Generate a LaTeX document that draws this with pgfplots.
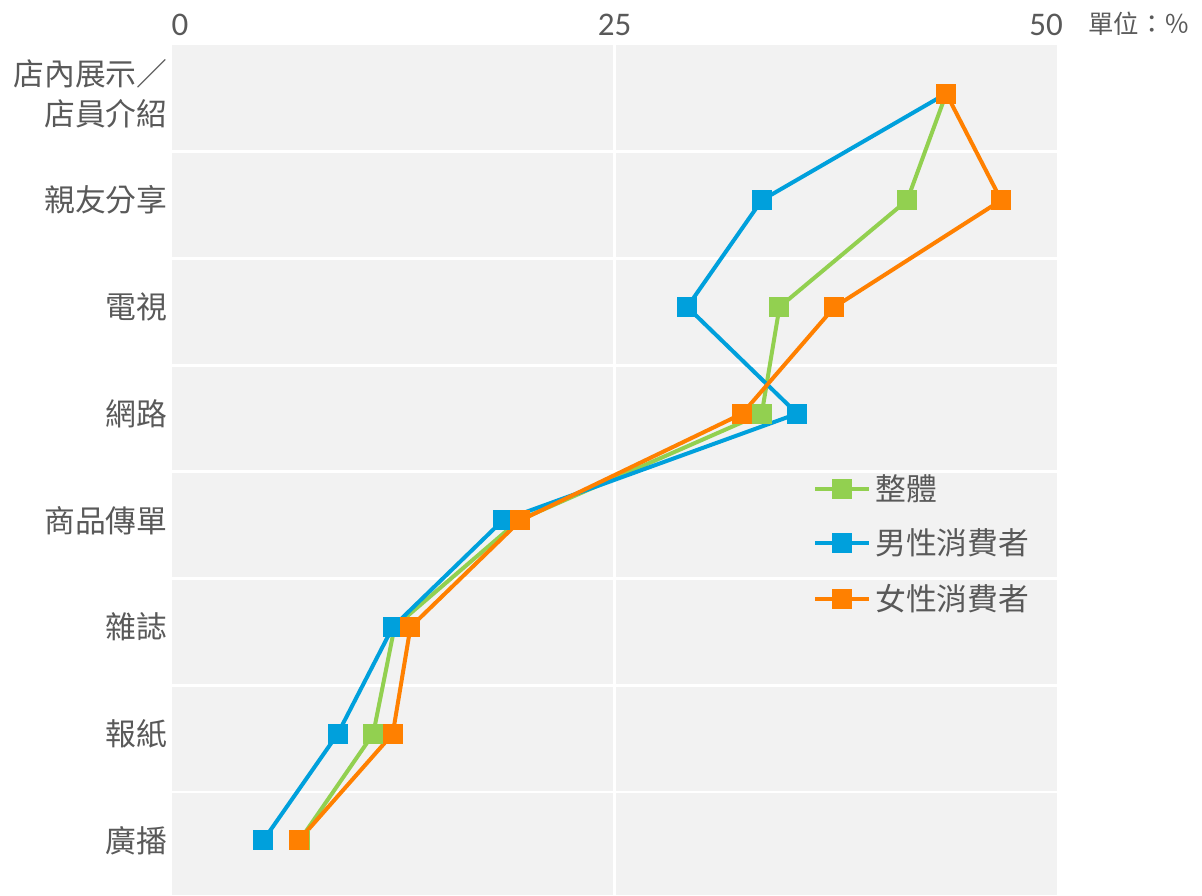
\documentclass[border=0pt]{standalone}
\usepackage{pgfplots}
\pgfplotsset{compat=1.18}
\usepackage{fontspec}
\setmainfont{Carlito}
\newfontfamily\cjk{Noto Sans CJK TC}
\definecolor{cgreen}{HTML}{92D050}
\definecolor{cblue}{HTML}{00A0DC}
\definecolor{corange}{HTML}{FF8000}
\definecolor{bgray}{HTML}{F2F2F2}
\definecolor{tgray}{HTML}{595959}

\begin{document}
\begin{tikzpicture}
\useasboundingbox (-85.5pt,0pt) rectangle (515.5pt,447.5pt);
\begin{axis}[
  at={(0pt,0pt)}, anchor=south west,
  scale only axis, width=443.5pt, height=425pt,
  xmin=0, xmax=50, ymin=0, ymax=7.966, y dir=reverse,
  clip=false,
  axis background/.style={fill=bgray},
  axis line style={draw=none},
  major tick length=0pt, minor tick length=0pt,
  xtick={0,25,50},
  xticklabels={{\hspace*{9pt}0},{25},{50\hspace*{12pt}}},
  xticklabel pos=upper,
  /pgf/number format/assume math mode=true,
  xticklabel style={font=\fontsize{16.5}{18}\selectfont, text=tgray, yshift=1pt},
  xmajorgrids,
  major grid style={white, line width=1.4pt},
  ytick={0.455,1.455,2.455,3.455,4.455,5.455,6.455,7.455},
  yticklabels={{店內展示／\\店員介紹},親友分享,電視,網路,商品傳單,雜誌,報紙,廣播},
  yticklabel style={font=\cjk\fontsize{15.4}{20}\selectfont, text=tgray, align=right, inner sep=1.5pt},
  minor ytick={1,2,3,4,5,6,7},
  yminorgrids,
  minor grid style={white, line width=1.4pt},
  every axis plot/.append style={line width=2pt, mark=square*, mark size=4.75pt,
     mark options={line width=0.5pt, rounded corners=1pt}},
  legend style={at={(0.717,0.505)}, anchor=north west, draw=none, fill=none,
     font=\cjk\fontsize{15.4}{18}\selectfont, text=tgray, row sep=9pt,
     nodes={inner sep=2pt}},
  legend cell align=left,
  legend image code/.code={\draw[mark repeat=2,mark phase=2,#1] plot coordinates {(0pt,0pt) (13.5pt,0pt) (27pt,0pt)};},
]
\addplot[color=cgreen] coordinates {(43.7,0.455) (41.5,1.455) (34.3,2.455) (33.3,3.455) (19.6,4.455) (12.6,5.455) (11.4,6.455) (7.25,7.455)};
\addlegendentry{整體}
\addplot[color=cblue] coordinates {(43.7,0.455) (33.3,1.455) (29.1,2.455) (35.3,3.455) (18.7,4.455) (12.5,5.455) (9.4,6.455) (5.2,7.455)};
\addlegendentry{男性消費者}
\addplot[color=corange] coordinates {(43.7,0.455) (46.8,1.455) (37.4,2.455) (32.2,3.455) (19.7,4.455) (13.5,5.455) (12.5,6.455) (7.2,7.455)};
\addlegendentry{女性消費者}
\node[anchor=west, font=\cjk\fontsize{12.7}{14}\selectfont, text=tgray, inner sep=0pt] at (axis cs:51.7,-0.2) {單位：％};
\end{axis}
\end{tikzpicture}
\end{document}
